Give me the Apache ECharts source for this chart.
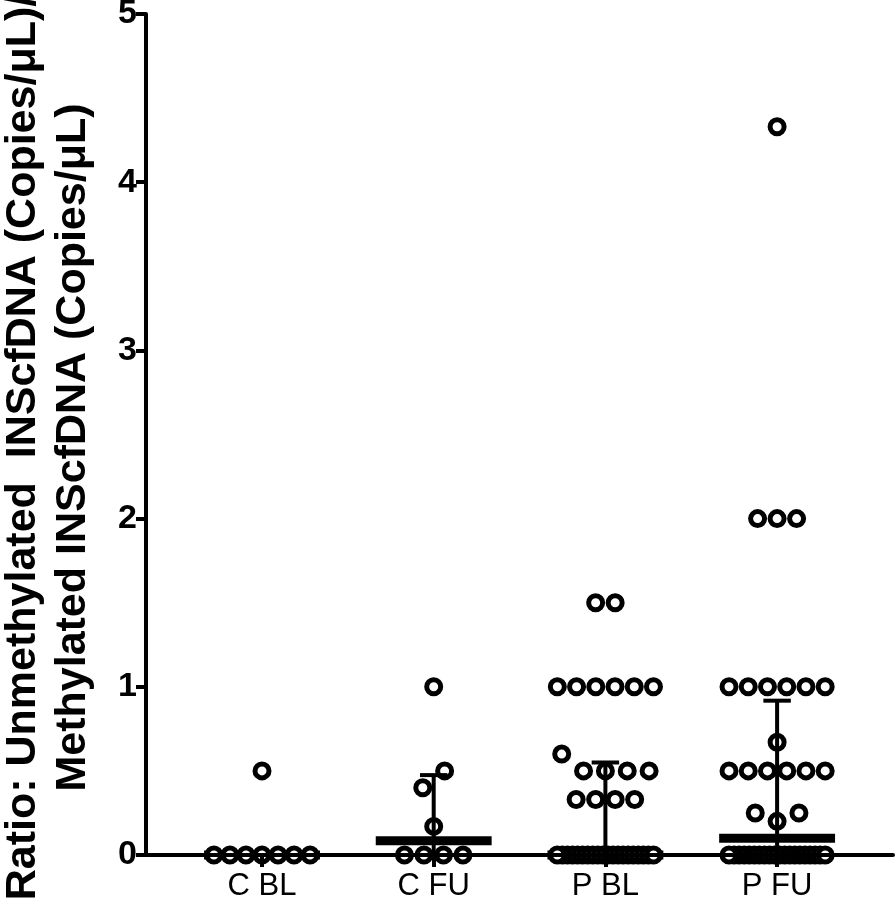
<!DOCTYPE html>
<html>
<head>
<meta charset="utf-8">
<script src="https://cdn.jsdelivr.net/npm/echarts@6/dist/echarts.min.js"></script>
<style>
  html, body { margin: 0; padding: 0; background: #fff; }
  #chart { width: 895px; height: 909px; }
</style>
</head>
<body>
<div id="chart"></div>
<script>
// ---- Data ----
const categories = ['C BL', 'C FU', 'P BL', 'P FU'];
const yTicks = [0, 1, 2, 3, 4, 5];
const cBL = [0, 0, 0, 0, 0, 0, 0, 0.5];
const cFU = [0, 0, 0, 0, 0.17, 0.4, 0.5, 1.0];
const pBL = [0, 0, 0, 0, 0, 0, 0, 0, 0, 0, 0, 0, 0, 0, 0, 0, 0, 0, 0, 0,
             0.33, 0.33, 0.33, 0.33, 0.5, 0.5, 0.5, 0.5, 0.6,
             1, 1, 1, 1, 1, 1, 1.5, 1.5];
const pFU = [0, 0, 0, 0, 0, 0, 0, 0, 0, 0, 0, 0, 0, 0, 0, 0, 0, 0, 0, 0,
             0.2, 0.25, 0.25, 0.5, 0.5, 0.5, 0.5, 0.5, 0.5, 0.67,
             1, 1, 1, 1, 1, 1, 2, 2, 2, 4.33];
const groups = [cBL, cFU, pBL, pFU];

// ---- Layout helpers ----
const X_MIN = 0.3244, X_MAX = 4.675;
const STEP = 0.1136;     // point spacing in x units
const SPAN = 0.56;       // max row span in x units
const BIN = 0.12;        // values closer than this share a row

function swarm(values, gi) {
  const s = values.slice().sort((a, b) => a - b);
  const bins = [];
  s.forEach(v => {
    const last = bins[bins.length - 1];
    if (last && v - last[0] < BIN) last.push(v); else bins.push([v]);
  });
  const pts = [];
  bins.forEach(b => {
    const n = b.length;
    const mixed = b[0] !== b[n - 1];
    const base = mixed ? STEP * 1.12 : STEP;
    const step = n > 1 ? Math.min(base, SPAN / (n - 1)) : 0;
    b.forEach((v, i) => {
      let k;
      if (n % 2 === 1) { k = i === 0 ? 0 : (i % 2 === 1 ? (i + 1) / 2 : -i / 2); }
      else { const m = Math.floor(i / 2) + 0.5; k = i % 2 === 0 ? -m : m; }
      pts.push([gi + 1 + k * step, v]);
    });
  });
  return pts;
}

function pct(sorted, p) {
  const n = sorted.length;
  const pos = p * (n + 1);
  if (pos <= 1) return sorted[0];
  if (pos >= n) return sorted[n - 1];
  const lo = Math.floor(pos);
  return sorted[lo - 1] + (pos - lo) * (sorted[lo] - sorted[lo - 1]);
}

const scatterData = [];
groups.forEach((g, gi) => swarm(g, gi).forEach(p => scatterData.push(p)));

const statData = groups.map((g, gi) => {
  const s = g.slice().sort((a, b) => a - b);
  return [gi + 1, pct(s, 0.5), pct(s, 0.25), pct(s, 0.75)];
});

const FONT = 'Arial, "Liberation Sans", Helvetica, sans-serif';

const chart = echarts.init(document.getElementById('chart'), null, { renderer: 'canvas' });
chart.setOption({
  animation: false,
  backgroundColor: '#ffffff',
  grid: { left: 146, right: 2, top: 14, bottom: 54, containLabel: false, outerBoundsMode: 'none' },
  xAxis: {
    type: 'value', min: X_MIN, max: X_MAX, z: 5,
    splitLine: { show: false },
    axisLine: { show: true, lineStyle: { color: '#000', width: 4 } },
    axisTick: { show: true, customValues: [1, 2, 3, 4], length: 12, lineStyle: { color: '#000', width: 4 } },
    axisLabel: {
      customValues: [1, 2, 3, 4],
      formatter: v => categories[Math.round(v) - 1] || '',
      fontSize: 31, color: '#000', fontFamily: FONT, margin: 16
    }
  },
  yAxis: {
    type: 'value', min: yTicks[0], max: yTicks[yTicks.length - 1], interval: 1, z: 5,
    name: 'Ratio: Unmethylated  INScfDNA (Copies/\u03bcL)/\nMethylated INScfDNA (Copies/\u03bcL)',
    nameLocation: 'middle', nameGap: 48,
    nameTextStyle: { fontSize: 43, fontWeight: 'bold', color: '#000', fontFamily: FONT, lineHeight: 50,
                     padding: [0, 26, 0, 0] },
    splitLine: { show: false },
    axisLine: { show: true, lineStyle: { color: '#000', width: 4 } },
    axisTick: { show: true, length: 10, lineStyle: { color: '#000', width: 4 } },
    axisLabel: { fontSize: 34, fontWeight: 'bold', color: '#000', fontFamily: FONT, margin: 9 }
  },
  series: [
    {
      type: 'custom', z: 1, silent: true,
      data: statData,
      renderItem: function (params, api) {
        const c = api.value(0), med = api.value(1);
        const a = api.coord([c - 0.3375, med]);
        const b = api.coord([c + 0.3375, med]);
        return { type: 'rect', shape: { x: a[0], y: a[1] - 4.5, width: b[0] - a[0], height: 9 },
                 style: { fill: '#000' } };
      }
    },
    {
      type: 'scatter', z: 2,
      symbol: 'circle', symbolSize: 14,
      itemStyle: { color: '#fff', borderColor: '#000', borderWidth: 5, opacity: 1 },
      data: scatterData
    },
    {
      type: 'custom', z: 3, silent: true,
      data: statData,
      renderItem: function (params, api) {
        const c = api.value(0), q1 = api.value(2), q3 = api.value(3);
        const lo = api.coord([c, q1]), hi = api.coord([c, q3]);
        const capL = api.coord([c - 0.08, q3]), capR = api.coord([c + 0.08, q3]);
        const capL1 = api.coord([c - 0.08, q1]), capR1 = api.coord([c + 0.08, q1]);
        const st = { stroke: '#000', lineWidth: 4 };
        return { type: 'group', children: [
          { type: 'line', shape: { x1: lo[0], y1: lo[1], x2: hi[0], y2: hi[1] }, style: st },
          { type: 'line', shape: { x1: capL[0], y1: capL[1], x2: capR[0], y2: capR[1] }, style: st },
          { type: 'line', shape: { x1: capL1[0], y1: capL1[1], x2: capR1[0], y2: capR1[1] }, style: st }
        ]};
      }
    }
  ]
});
</script>
</body>
</html>
